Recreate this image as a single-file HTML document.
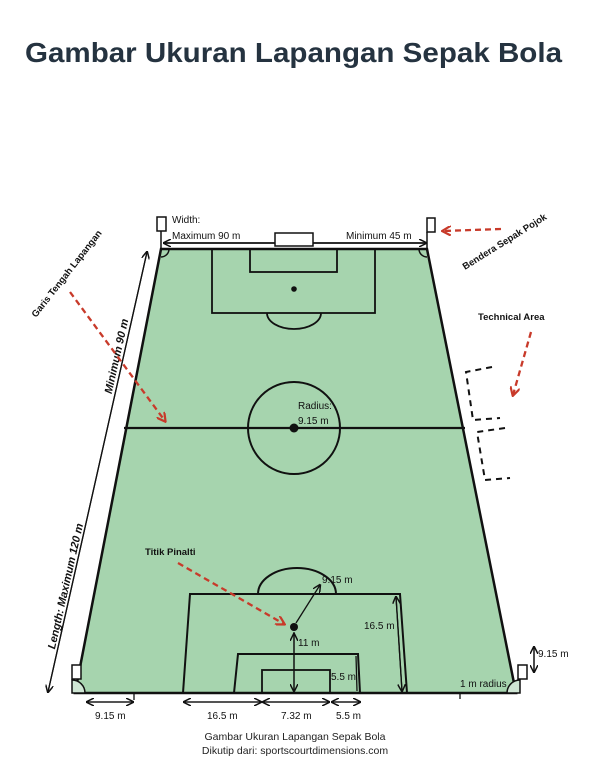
<!DOCTYPE html>
<html><head><meta charset="utf-8"><style>
html,body{margin:0;padding:0;background:#fff;}
svg{display:block;}
text{font-family:"Liberation Sans",sans-serif;}
</style></head><body>
<svg width="600" height="765" viewBox="0 0 600 765" xmlns="http://www.w3.org/2000/svg">
<defs>
<marker id="ab" markerWidth="8" markerHeight="8" refX="7" refY="4" orient="auto" markerUnits="userSpaceOnUse"><path d="M0,0 L8,4 L0,8" fill="none" stroke="#111" stroke-width="1.5"/></marker>
<marker id="ar" markerWidth="10" markerHeight="10" refX="8" refY="5" orient="auto" markerUnits="userSpaceOnUse"><path d="M0,0 L9,5 L0,10" fill="none" stroke="#c83a2a" stroke-width="2.2"/></marker>
</defs>
<rect width="600" height="765" fill="#fff"/>
<text x="25" y="62" font-size="28" font-weight="bold" fill="#253340" textLength="537" lengthAdjust="spacingAndGlyphs">Gambar Ukuran Lapangan Sepak Bola</text>

<polygon points="161,249 427,249 516,693 75,693" fill="#a6d4ae" stroke="#111" stroke-width="2.5"/>
<rect x="157" y="217" width="9" height="14" fill="#fff" stroke="#111" stroke-width="1.5"/>
<line x1="161" y1="231" x2="161" y2="249" stroke="#111" stroke-width="1.5"/>
<rect x="427" y="218" width="8" height="14" fill="#fff" stroke="#111" stroke-width="1.5"/>
<line x1="427" y1="232" x2="427" y2="249" stroke="#111" stroke-width="1.5"/>
<rect x="72" y="665" width="9" height="14" fill="#fff" stroke="#111" stroke-width="1.5"/>
<rect x="518" y="665" width="9" height="14" fill="#fff" stroke="#111" stroke-width="1.5"/>
<path d="M161,257 A8,8 0 0 0 169,249" fill="none" stroke="#111" stroke-width="1.5"/>
<path d="M419,249 A8,8 0 0 0 427,257" fill="none" stroke="#111" stroke-width="1.5"/>
<path d="M72,680 A13,13 0 0 1 85,693 L72,693 Z" fill="#cfe6d4" stroke="#111" stroke-width="1.5"/>
<path d="M520,680 A13,13 0 0 0 507,693 L520,693 Z" fill="#cfe6d4" stroke="#111" stroke-width="1.5"/>
<line x1="163" y1="243" x2="426" y2="243" stroke="#111" stroke-width="1.5" marker-end="url(#ab)"/>
<line x1="426" y1="243" x2="164" y2="243" stroke="#111" stroke-width="1.5" marker-end="url(#ab)"/>
<text x="172" y="223" font-size="10" fill="#111">Width:</text>
<text x="172" y="239" font-size="10" fill="#111">Maximum 90 m</text>
<text x="346" y="239" font-size="10" fill="#111">Minimum 45 m</text>
<rect x="275" y="233" width="38" height="13" fill="#fff" stroke="#111" stroke-width="1.5"/>
<rect x="212" y="249" width="163" height="64" fill="none" stroke="#111" stroke-width="1.8"/>
<rect x="250" y="249" width="87" height="23" fill="none" stroke="#111" stroke-width="1.8"/>
<circle cx="294" cy="289" r="2.8" fill="#111"/>
<path d="M267,313 A27,16 0 0 0 321,313" fill="none" stroke="#111" stroke-width="1.8"/>
<line x1="124" y1="428" x2="465" y2="428" stroke="#111" stroke-width="2.2"/>
<circle cx="294" cy="428" r="46" fill="none" stroke="#111" stroke-width="2"/>
<circle cx="294" cy="428" r="4.5" fill="#111"/>
<text x="298" y="409" font-size="10" fill="#111">Radius:</text>
<text x="298" y="424" font-size="10" fill="#111">9.15 m</text>
<path d="M258,594 A36,24 0 0 1 336,594" fill="none" stroke="#111" stroke-width="2"/>
<polyline points="183,693 190,594 400,594 407,693" fill="none" stroke="#111" stroke-width="2"/>
<polyline points="234,693 238,654 358,654 360,693" fill="none" stroke="#111" stroke-width="2"/>
<rect x="262" y="670" width="68" height="23" fill="none" stroke="#111" stroke-width="1.8"/>
<circle cx="294" cy="627" r="4" fill="#111"/>
<line x1="294" y1="632" x2="294" y2="691" stroke="#111" stroke-width="1.3" marker-end="url(#ab)"/>
<line x1="294" y1="691" x2="294" y2="634" stroke="#111" stroke-width="1.3" marker-end="url(#ab)"/>
<line x1="296" y1="623" x2="320" y2="585" stroke="#111" stroke-width="1.3" marker-end="url(#ab)"/>
<text x="322" y="583" font-size="10" fill="#111">9.15 m</text>
<text x="298" y="646" font-size="10" fill="#111">11 m</text>
<line x1="396" y1="596" x2="402" y2="691" stroke="#111" stroke-width="1.3" marker-end="url(#ab)"/>
<line x1="402" y1="691" x2="396" y2="597" stroke="#111" stroke-width="1.3" marker-end="url(#ab)"/>
<text x="364" y="629" font-size="10" fill="#111">16.5 m</text>
<line x1="356" y1="656" x2="357" y2="691" stroke="#111" stroke-width="1.3"/>
<text x="331" y="680" font-size="10" fill="#111">5.5 m</text>
<g stroke="#111" stroke-width="1.3" fill="none">
<line x1="87" y1="702" x2="133" y2="702" marker-end="url(#ab)"/><line x1="133" y1="702" x2="87" y2="702" marker-end="url(#ab)"/>
<line x1="134" y1="693" x2="134" y2="700"/>
<line x1="184" y1="702" x2="261" y2="702" marker-end="url(#ab)"/><line x1="261" y1="702" x2="184" y2="702" marker-end="url(#ab)"/>
<line x1="263" y1="702" x2="329" y2="702" marker-end="url(#ab)"/><line x1="329" y1="702" x2="263" y2="702" marker-end="url(#ab)"/>
<line x1="331" y1="702" x2="360" y2="702" marker-end="url(#ab)"/><line x1="360" y1="702" x2="332" y2="702" marker-end="url(#ab)"/>
<line x1="460" y1="693" x2="460" y2="699"/>
<line x1="534" y1="647" x2="534" y2="672" marker-end="url(#ab)"/><line x1="534" y1="672" x2="534" y2="647" marker-end="url(#ab)"/>
</g>
<text x="95" y="719" font-size="10" fill="#111">9.15 m</text>
<text x="207" y="719" font-size="10" fill="#111">16.5 m</text>
<text x="281" y="719" font-size="10" fill="#111">7.32 m</text>
<text x="336" y="719" font-size="10" fill="#111">5.5 m</text>
<text x="538" y="657" font-size="10" fill="#111">9.15 m</text>
<text x="460" y="687" font-size="10" fill="#111">1 m radius</text>
<g stroke="#111" stroke-width="2" stroke-dasharray="6,5" fill="none">
<polyline points="492,367 466,372 473,420 500,418"/>
<polyline points="505,428 477,432 485,480 510,478"/>
</g>
<line x1="48" y1="692" x2="147" y2="252" stroke="#111" stroke-width="1.3" marker-end="url(#ab)"/>
<line x1="147" y1="252" x2="48" y2="692" stroke="#111" stroke-width="1.3" marker-end="url(#ab)"/>
<text transform="translate(120,357) rotate(-77.3)" font-size="11" font-weight="bold" font-style="italic" fill="#111" text-anchor="middle">Minimum 90 m</text>
<text transform="translate(69,587) rotate(-77.3)" font-size="11" font-weight="bold" font-style="italic" fill="#111" text-anchor="middle">Length: Maximum 120 m</text>
<text transform="translate(36,318) rotate(-52)" font-size="9.5" font-weight="bold" fill="#111">Garis Tengah Lapangan</text>
<line x1="70" y1="292" x2="165" y2="421" stroke="#c83a2a" stroke-width="2.3" stroke-dasharray="6,4" marker-end="url(#ar)"/>
<text transform="translate(465,270) rotate(-32)" font-size="9.5" font-weight="bold" fill="#111">Bendera Sepak Pojok</text>
<line x1="501" y1="229" x2="443" y2="231" stroke="#c83a2a" stroke-width="2.3" stroke-dasharray="6,4" marker-end="url(#ar)"/>
<text x="478" y="320" font-size="9.5" font-weight="bold" fill="#111">Technical Area</text>
<line x1="531" y1="332" x2="513" y2="395" stroke="#c83a2a" stroke-width="2.3" stroke-dasharray="6,4" marker-end="url(#ar)"/>
<text x="145" y="555" font-size="9.5" font-weight="bold" fill="#111">Titik Pinalti</text>
<line x1="178" y1="563" x2="284" y2="624" stroke="#c83a2a" stroke-width="2.3" stroke-dasharray="6,4" marker-end="url(#ar)"/>
<text x="295" y="740" font-size="10.5" fill="#222" text-anchor="middle">Gambar Ukuran Lapangan Sepak Bola</text>
<text x="295" y="754" font-size="10.5" fill="#222" text-anchor="middle">Dikutip dari: sportscourtdimensions.com</text>
</svg>
</body></html>
